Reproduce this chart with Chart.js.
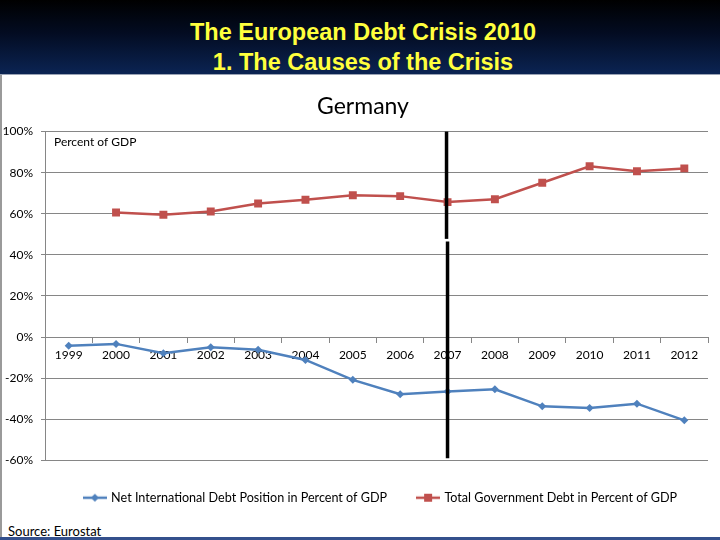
<!DOCTYPE html>
<html>
<head>
<meta charset="utf-8">
<script src="https://cdn.jsdelivr.net/npm/chart.js@4.4.1/dist/chart.umd.min.js"></script>
<style>
body{margin:0;width:720px;height:540px;overflow:hidden;background:#fff;font-family:Lato,sans-serif;position:relative;}
#head{position:absolute;left:0;top:0;width:720px;height:74px;background:linear-gradient(to bottom,#000 0%,#030c22 45%,#0b2453 100%);border-bottom:1px solid #9aa3b5;}
#head div{position:absolute;left:0;width:726px;text-align:center;color:#ffff3d;font:bold 23.5px "Liberation Sans",Arial,sans-serif;line-height:29px;}
#box{position:absolute;left:2px;top:76px;width:716px;height:438px;}
#src{position:absolute;left:8px;top:523px;font:13px Lato,sans-serif;color:#000;}
#lb{position:absolute;left:0;top:75px;width:2px;height:465px;background:#9a9a9a;}
#bb{position:absolute;left:0;top:537px;width:720px;height:3px;background:#34508c;}
</style>
</head>
<body>
<div id="head">
  <div style="top:18px">The European Debt Crisis 2010</div>
  <div style="top:48px">1. The Causes of the Crisis</div>
</div>
<div id="box"><canvas id="chart" width="716" height="438"></canvas></div>
<div id="src">Source: Eurostat</div>
<div id="lb"></div>
<div id="bb"></div>

<script>
// data (percent of GDP)
var years = ['1999','2000','2001','2002','2003','2004','2005','2006','2007','2008','2009','2010','2011','2012'];
var netIntl = [-4.2, -3.3, -7.8, -4.9, -6.2, -11.1, -20.8, -27.8, -26.5, -25.4, -33.7, -34.5, -32.4, -40.5];
var govDebt = [null, 60.6, 59.5, 61.1, 65.0, 66.8, 69.0, 68.6, 65.7, 67.1, 75.1, 83.1, 80.7, 82.1];
var yTicks = [-60, -40, -20, 0, 20, 40, 60, 80, 100];
var markYear = '2007';

var blue = '#4f81bd', red = '#c0504d', gridCol = '#868686';

// little line+marker icons for the legend (excel style)
function legendIcon(col, shape){
  var c = document.createElement('canvas');
  c.width = 24; c.height = 12;
  var g = c.getContext('2d');
  g.strokeStyle = col; g.lineWidth = 2.5;
  g.beginPath(); g.moveTo(0,6); g.lineTo(24,6); g.stroke();
  g.fillStyle = col;
  if(shape == 'diamond'){
    g.beginPath(); g.moveTo(12,2); g.lineTo(16,6); g.lineTo(12,10); g.lineTo(8,6); g.closePath(); g.fill();
  } else {
    g.fillRect(8,2,8,8);
  }
  return c;
}

var extras = {
  id: 'extras',
  afterLayout: function(chart){
    // nudge title + legend a bit right like in the original
    chart.titleBlock.left += 8; chart.titleBlock.right += 8;
    chart.legend.left += 26; chart.legend.right += 26;
  },
  afterDraw: function(chart){
    var ctx = chart.ctx, xs = chart.scales.x, ys = chart.scales.y, a = chart.chartArea;
    ctx.save();
    ctx.fillStyle = '#000';
    ctx.font = '12px Lato, sans-serif';
    ctx.textBaseline = 'middle';
    ctx.fillText('Percent of GDP', a.left + 9, a.top + 11);
    // the hand drawn black marker at 2007
    var x = xs.getPixelForValue(years.indexOf(markYear));
    ctx.strokeStyle = '#000';
    ctx.lineWidth = 3.5;
    ctx.beginPath();
    ctx.moveTo(x - 1, ys.getPixelForValue(100));
    ctx.lineTo(x - 1, ys.getPixelForValue(47.8));
    ctx.stroke();
    ctx.beginPath();
    ctx.moveTo(x, ys.getPixelForValue(46.5));
    ctx.lineTo(x, ys.getPixelForValue(-59));
    ctx.stroke();
    ctx.restore();
  }
};

new Chart(document.getElementById('chart'), {
  type: 'line',
  data: {
    labels: years,
    datasets: [
      {
        label: 'Net International Debt Position in Percent of GDP',
        data: netIntl,
        borderColor: blue, backgroundColor: blue,
        borderWidth: 2.5,
        pointStyle: 'rectRot', pointRadius: 4,
        pointBorderWidth: 0,
        tension: 0
      },
      {
        label: 'Total Government Debt in Percent of GDP',
        data: govDebt,
        borderColor: red, backgroundColor: red,
        borderWidth: 2.5,
        pointStyle: 'rect', pointRadius: 5.6,
        pointBorderWidth: 0,
        tension: 0
      }
    ]
  },
  options: {
    responsive: false,
    animation: false,
    layout: {padding: {left: 0, right: 10, top: 0, bottom: 0}},
    plugins: {
      tooltip: {enabled: false},
      title: {
        display: true, text: 'Germany', color: '#000',
        font: {family: 'Lato', size: 23, weight: 'normal'},
        padding: {top: 17, bottom: 11}
      },
      legend: {
        position: 'bottom',
        labels: {
          color: '#000',
          font: {family: 'Lato', size: 12.6},
          usePointStyle: true,
          pointStyleWidth: 20,
          padding: 31,
          generateLabels: function(chart){
            return chart.data.datasets.map(function(ds, i){
              return {
                text: ds.label,
                pointStyle: legendIcon(ds.borderColor, i == 0 ? 'diamond' : 'square'),
                fillStyle: ds.borderColor, strokeStyle: ds.borderColor,
                lineWidth: 0, hidden: false, datasetIndex: i
              };
            });
          }
        }
      }
    },
    scales: {
      x: {
        type: 'category',
        position: {y: 0},
        offset: true,
        grid: {offset: true, drawOnChartArea: false, drawTicks: true, tickLength: 5, color: gridCol},
        border: {color: gridCol},
        ticks: {color: '#000', font: {family: 'Lato', size: 12}, padding: 6, maxRotation: 0, autoSkip: false}
      },
      y: {
        min: yTicks[0], max: yTicks[yTicks.length - 1],
        afterBuildTicks: function(s){ s.ticks = yTicks.map(function(v){ return {value: v}; }); },
        afterFit: function(s){ s.width = 43; },
        grid: {color: gridCol, tickLength: 4},
        border: {color: gridCol},
        ticks: {
          color: '#000', font: {family: 'Lato', size: 12}, padding: 8,
          callback: function(v){ return v + '%'; }
        }
      }
    }
  },
  plugins: [extras]
});
</script>
</body>
</html>
